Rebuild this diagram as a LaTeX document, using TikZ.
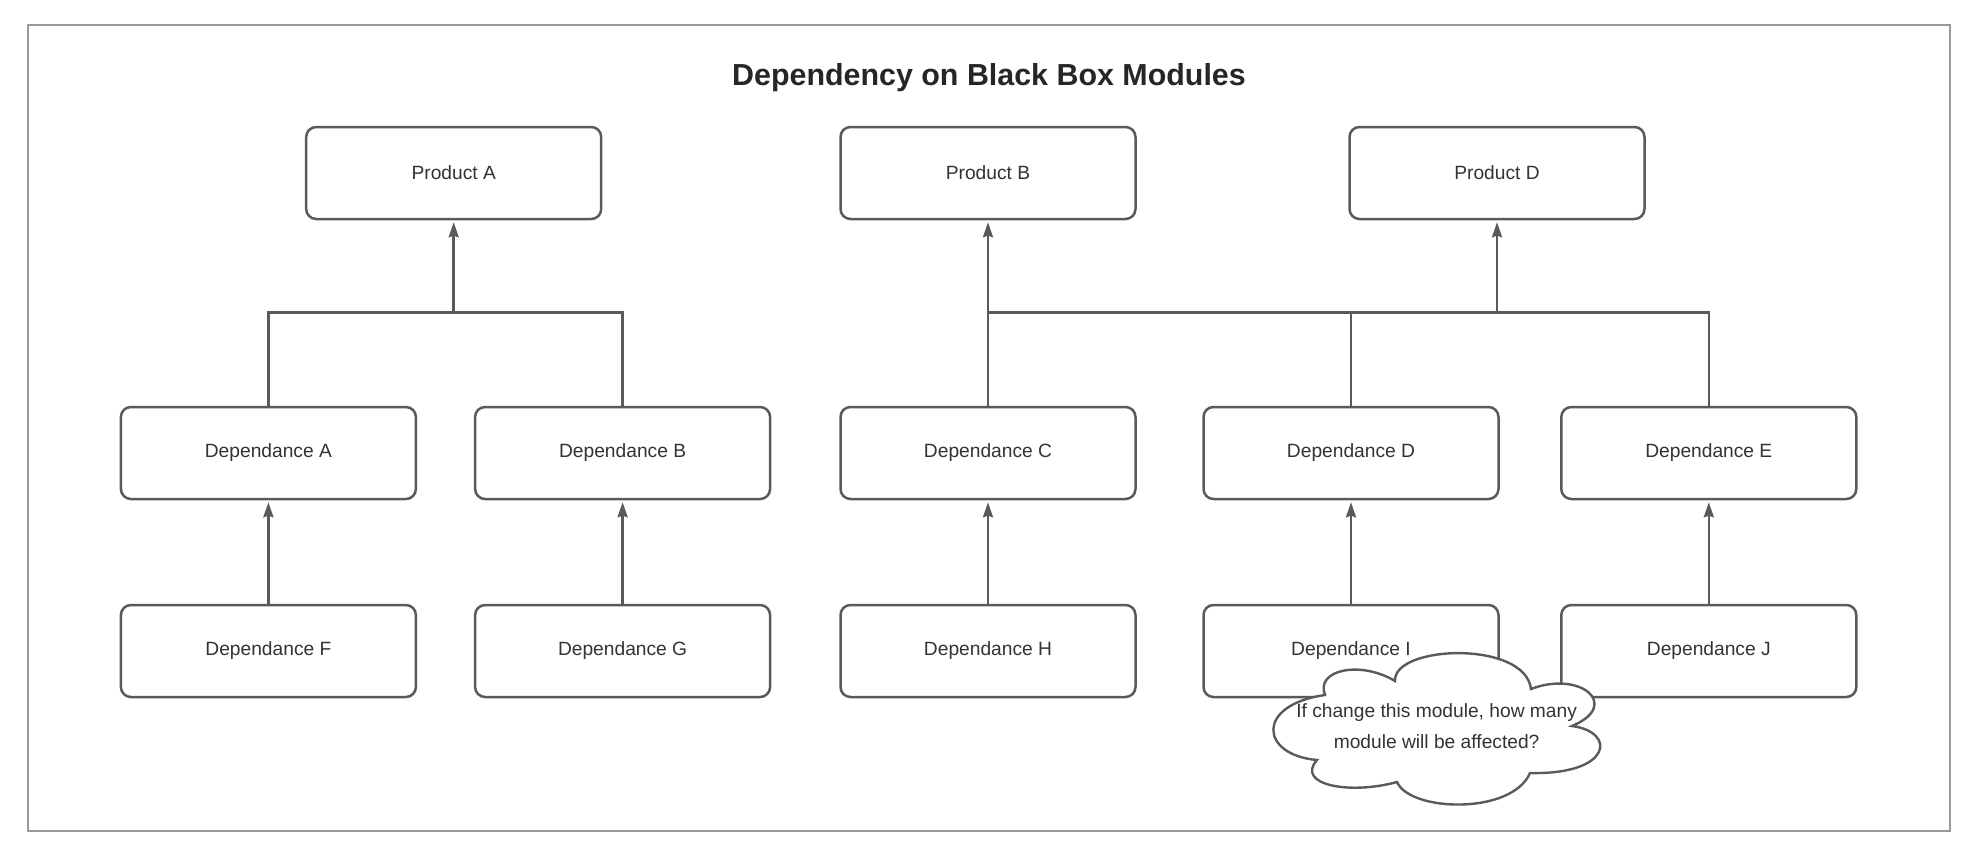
\documentclass[tikz,border=0pt]{standalone}
\usepackage{fontspec}
\setmainfont{Liberation Sans}
\usetikzlibrary{arrows.meta}
\definecolor{ln}{HTML}{5A5A5A}
\definecolor{tx}{HTML}{333333}
\definecolor{fr}{HTML}{999999}
\tikzset{
  box/.style={draw=ln, line width=1.25pt, rounded corners=5pt, minimum width=147.5pt, minimum height=46pt, inner sep=0pt, font=\fontsize{9.6}{11}\selectfont, text=tx, fill=white},
  conn/.style={draw=ln, line width=1.25pt},
  arr/.style={conn, -{Stealth[length=7.5pt,width=5pt,inset=0.8pt]}, shorten >=1pt},
}
\begin{document}
\begin{tikzpicture}[x=0.5pt,y=-0.5pt]
\useasboundingbox (0,0) rectangle (1976,852);
\draw[fr, line width=1pt] (27.7,25.2) rectangle (1949.6,830.5);
\node[font=\fontsize{15.2}{18}\selectfont\bfseries, text=black!85] (title) at (989,78) {Dependency on Black Box Modules};
% products
\node[box] (pa) at (453.7,173) {Product A};
\node[box] (pb) at (988,173) {Product B};
\node[box] (pd) at (1497,173) {Product D};
% row 2
\node[box] (dA) at (268.4,453) {Dependance A};
\node[box] (dB) at (622.6,453) {Dependance B};
\node[box] (dC) at (988,453) {Dependance C};
\node[box] (dD) at (1351,453) {Dependance D};
\node[box] (dE) at (1708.8,453) {Dependance E};
% row 3
\node[box] (dF) at (268.4,651) {Dependance F};
\node[box] (dG) at (622.6,651) {Dependance G};
\node[box] (dH) at (988,651) {Dependance H};
\node[box] (dI) at (1351,651) {Dependance I};
\node[box] (dJ) at (1708.8,651) {Dependance J};
% junctions
\coordinate (j1) at (453.7,312.5);
\coordinate (j2) at (988,312.5);
\coordinate (j3) at (1497,312.5);
% left tree
\draw[conn] (dA.north) |- (j1);
\draw[conn] (dB.north) |- (j1);
\draw[arr] (j1) -- (pa.south);
% right tree
\draw[arr] (dC.north) -- (pb.south);
\draw[conn] (dE.north) |- (j2);
\draw[conn] (dD.north) -- (dD.north |- j2);
\draw[arr] (j3) -- (pd.south);
% row 3 to row 2
\draw[arr] (dF.north) -- (dA.south);
\draw[arr] (dG.north) -- (dB.south);
\draw[arr] (dH.north) -- (dC.south);
\draw[arr] (dI.north) -- (dD.south);
\draw[arr] (dJ.north) -- (dE.south);
% cloud
\draw[draw=ln, line width=1.2pt, fill=white]
  (1395,681) .. controls (1393,645) and (1525,640) .. (1531,689)
  .. controls (1580,670) and (1622,705) .. (1572,726)
  .. controls (1617,732) and (1612,775) .. (1530,773)
  .. controls (1512,815) and (1410,812) .. (1397,782)
  .. controls (1350,795) and (1295,785) .. (1317,760)
  .. controls (1260,755) and (1255,705) .. (1325,695)
  .. controls (1315,670) and (1360,660) .. cycle;
\node[font=\fontsize{9.6}{15.75}\selectfont, text=tx, align=center] (note) at (1436.6,726) {If change this module, how many\\module will be affected?};
\end{tikzpicture}
\end{document}
